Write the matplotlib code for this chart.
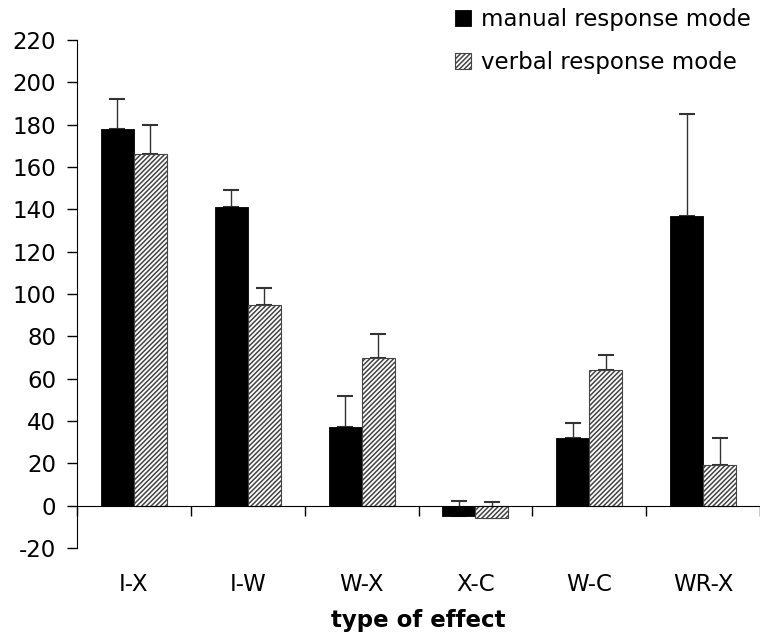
import numpy as np
import matplotlib.pyplot as plt
from matplotlib.transforms import blended_transform_factory

categories = ["I-X", "I-W", "W-X", "X-C", "W-C", "WR-X"]
manual = [178, 141, 37, -5, 32, 137]
manual_err = [14, 8, 15, 7, 7, 48]
verbal = [166, 95, 70, -6, 64, 19]
verbal_err = [14, 8, 11, 7.5, 7, 13]
yticks = list(range(-20, 221, 20))

plt.rcParams['font.family'] = ['DejaVu Sans']
plt.rcParams['axes.unicode_minus'] = False
plt.rcParams['hatch.linewidth'] = 1.1

FS = 16.5

fig = plt.figure(figsize=(7.6, 6.36), dpi=100)
ax = fig.add_axes([77 / 760, 1 - 548 / 636, 683 / 760, 508 / 636])

x = np.arange(len(categories))
w = 0.29

ax.bar(x - w / 2, manual, w, color="black", edgecolor="black", linewidth=0.6,
       label="manual response mode", zorder=3)
ax.bar(x + w / 2, verbal, w, color="white", edgecolor="#444444", linewidth=0.8,
       hatch="///////", label="verbal response mode", zorder=3)

zeros = np.zeros(len(categories))
ax.errorbar(x - w / 2, manual, yerr=[zeros, manual_err], fmt="none",
            ecolor="#333333", elinewidth=1.0, capsize=6, capthick=1.5, zorder=2)
ax.errorbar(x + w / 2, verbal, yerr=[zeros, verbal_err], fmt="none",
            ecolor="#333333", elinewidth=1.0, capsize=6, capthick=1.5, zorder=2)

ax.set_xlim(-0.5, len(categories) - 0.5)
ax.set_ylim(-20, 220)
ax.set_yticks(yticks)

ax.spines["top"].set_visible(False)
ax.spines["right"].set_visible(False)
ax.spines["bottom"].set_position(("data", 0))
ax.spines["bottom"].set_zorder(4)

ax.set_xticks(np.arange(len(categories) + 1) - 0.5)
ax.set_xticklabels([])
ax.tick_params(axis="x", direction="out", length=7, width=1)
ax.tick_params(axis="y", direction="out", length=7, width=1, pad=8, labelsize=FS)

trans = blended_transform_factory(ax.transData, ax.transAxes)
for i, c in enumerate(categories):
    ax.text(i, -0.071, c, transform=trans, ha="center", va="center", fontsize=FS)

fig.text(0.5 + 38 / 760, 1 - 621 / 636, "type of effect", ha="center", va="center",
         fontsize=FS, fontweight="bold")

ax.legend(loc="upper right", bbox_to_anchor=(1.0, 1 + 41 / 508),
          frameon=False, fontsize=FS, handlelength=0.7, handleheight=0.7,
          handletextpad=0.45, labelspacing=0.85, borderaxespad=0)

fig.savefig("out.png", dpi=100)
